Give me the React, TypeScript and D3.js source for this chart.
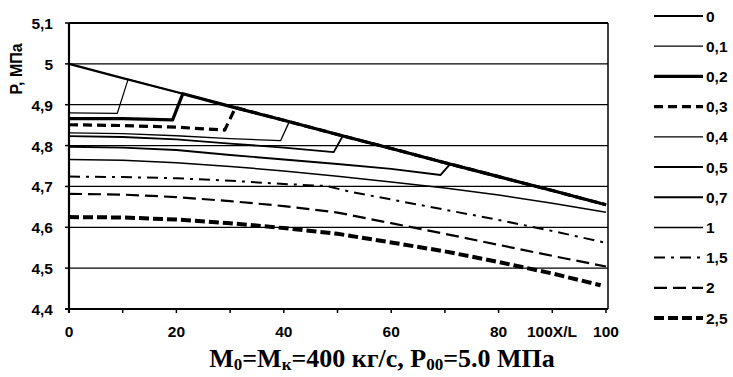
import React from "react";
import * as d3 from "d3";

// легенда / серии
const seriesLabels = ["0", "0,1", "0,2", "0,3", "0,4", "0,5", "0,7", "1", "1,5", "2", "2,5"];

// основная огибающая (серия 0)
const p0X = [0, 10, 20, 30, 40, 50, 60, 70, 80, 90, 100];
const p0Y = [5.0, 4.965, 4.931, 4.896, 4.862, 4.827, 4.793, 4.758, 4.724, 4.69, 4.655];

// ветви до скачка на огибающую
const p01X = [0, 9, 11];
const p01Y = [4.88, 4.879, 4.962];
const p02X = [0, 10, 19.3, 21.2];
const p02Y = [4.866, 4.866, 4.863, 4.927];
const p03X = [0, 10, 20, 29, 31];
const p03Y = [4.851, 4.849, 4.845, 4.838, 4.893];
const p04X = [0, 10, 20, 30, 39.4, 41];
const p04Y = [4.831, 4.829, 4.824, 4.817, 4.812, 4.858];
const p05X = [0, 10, 20, 30, 40, 49.3, 51];
const p05Y = [4.823, 4.821, 4.815, 4.805, 4.795, 4.784, 4.824];
const p07X = [0, 10, 20, 30, 40, 50, 60, 69.2, 71];
const p07Y = [4.797, 4.795, 4.789, 4.777, 4.766, 4.755, 4.743, 4.728, 4.755];

// кривые без скачка
const p1X = [0, 10, 20, 30, 40, 50, 60, 70, 80, 90, 100];
const p1Y = [4.766, 4.764, 4.758, 4.749, 4.738, 4.725, 4.711, 4.696, 4.679, 4.659, 4.637];
const p15X = [0, 10, 20, 30, 40, 48, 52, 60, 70, 80, 90, 100];
const p15Y = [4.724, 4.723, 4.72, 4.714, 4.706, 4.701, 4.688, 4.668, 4.643, 4.618, 4.591, 4.562];
const p2X = [0, 10, 20, 30, 40, 50, 60, 70, 80, 90, 100];
const p2Y = [4.682, 4.68, 4.674, 4.664, 4.652, 4.636, 4.61, 4.584, 4.557, 4.53, 4.504];
const p25X = [0, 10, 20, 30, 40, 50, 60, 70, 80, 90, 99];
const p25Y = [4.625, 4.624, 4.619, 4.61, 4.598, 4.584, 4.563, 4.541, 4.515, 4.487, 4.458];

const xTickLabels = ["0", "20", "40", "60", "80", "100"];
const yTicks = [4.4, 4.5, 4.6, 4.7, 4.8, 4.9, 5.0, 5.1];

type Pt = [number, number];
const zip = (xs: number[], ys: number[]): Pt[] => xs.map((x, i) => [x, ys[i]]);
const mainPts = zip(p0X, p0Y);
// ветвь + продолжение по огибающей
const withMain = (xs: number[], ys: number[]): Pt[] => {
  const last = xs[xs.length - 1];
  return [...zip(xs, ys), ...mainPts.filter((p) => p[0] > last)];
};

const styles = [
  { w: 2.2, dash: null },
  { w: 1.2, dash: null },
  { w: 3.2, dash: null },
  { w: 3.2, dash: "9,5" },
  { w: 1.3, dash: null },
  { w: 1.8, dash: null },
  { w: 1.9, dash: null },
  { w: 1.5, dash: null },
  { w: 2, dash: "11,6,3,6" },
  { w: 2.2, dash: "13,6" },
  { w: 4, dash: "10,4" },
];

const seriesData: Pt[][] = [
  mainPts,
  withMain(p01X, p01Y),
  withMain(p02X, p02Y),
  withMain(p03X, p03Y),
  withMain(p04X, p04Y),
  withMain(p05X, p05Y),
  withMain(p07X, p07Y),
  zip(p1X, p1Y),
  zip(p15X, p15Y),
  zip(p2X, p2Y),
  zip(p25X, p25Y),
];

export default function App() {
  const width = 733;
  const height = 377;
  const left = 69;
  const right = 608;
  const top = 23;
  const bottom = 309;

  const x = d3.scaleLinear().domain([0, 100]).range([left, 606]);
  const y = d3.scaleLinear().domain([4.4, 5.1]).range([bottom, top]);
  const line = d3
    .line<Pt>()
    .x((d) => x(d[0]))
    .y((d) => y(d[1]));

  const fmt = (v: number) => String(+v.toFixed(1)).replace(".", ",");
  const font = "'Liberation Sans', Arial, sans-serif";

  return (
    <svg
      width={width}
      height={height}
      style={{ position: "absolute", left: 0, top: 0, background: "#fff" }}
    >
      {/* сетка */}
      {yTicks.slice(1).map((t) => (
        <line key={"g" + t} x1={left} x2={right} y1={y(t)} y2={y(t)} stroke="#000" strokeWidth={t === 5.1 ? 2 : 1.3} />
      ))}
      <line x1={right} x2={right} y1={top} y2={bottom} stroke="#000" strokeWidth={1.5} />

      {/* кривые */}
      {seriesData.map((d, i) => (
        <path
          key={"s" + i}
          d={line(d) || ""}
          fill="none"
          stroke="#000"
          strokeWidth={styles[i].w}
          strokeDasharray={styles[i].dash || undefined}
          strokeLinejoin="round"
        />
      ))}

      {/* оси */}
      <line x1={left} x2={left} y1={top} y2={bottom + 4} stroke="#000" strokeWidth={2.2} />
      <line x1={left - 4} x2={right} y1={bottom} y2={bottom} stroke="#000" strokeWidth={2.2} />
      {yTicks.map((t) => (
        <g key={"yt" + t}>
          <line x1={left - 4} x2={left} y1={y(t)} y2={y(t)} stroke="#000" strokeWidth={1.5} />
          <text x={left - 16} y={y(t) + 6} textAnchor="end" fontFamily={font} fontWeight="bold" fontSize={15.5}>
            {fmt(t)}
          </text>
        </g>
      ))}
      {d3.range(0, 101, 10).map((t) => (
        <line key={"xt" + t} x1={x(t)} x2={x(t)} y1={bottom} y2={bottom + 4} stroke="#000" strokeWidth={1.5} />
      ))}
      {xTickLabels.map((l) => (
        <text key={"xl" + l} x={x(+l)} y={337} textAnchor="middle" fontFamily={font} fontWeight="bold" fontSize={15.5}>
          {l}
        </text>
      ))}
      <text x={552} y={337} textAnchor="middle" fontFamily={font} fontWeight="bold" fontSize={15.5}>
        100X/L
      </text>
      <text
        transform="translate(22,69) rotate(-90)"
        textAnchor="middle"
        fontFamily={font}
        fontWeight="bold"
        fontSize={16}
      >
        P, МПа
      </text>

      {/* подпись снизу */}
      <text x={382} y={367} textAnchor="middle" fontFamily="'Liberation Serif', 'Times New Roman', serif" fontWeight="bold" fontSize={26}>
        M<tspan fontSize={17} dy={3}>0</tspan>
        <tspan dy={-3}>=M</tspan>
        <tspan fontSize={17} dy={3}>к</tspan>
        <tspan dy={-3}>=400 кг/с, P</tspan>
        <tspan fontSize={17} dy={3}>00</tspan>
        <tspan dy={-3}>=5.0 МПа</tspan>
      </text>

      {/* легенда */}
      {seriesLabels.map((l, i) => {
        const ly = 16 + i * 30.2;
        return (
          <g key={"lg" + l}>
            <line
              x1={654}
              x2={703}
              y1={ly}
              y2={ly}
              stroke="#000"
              strokeWidth={styles[i].w}
              strokeDasharray={styles[i].dash || undefined}
            />
            <text x={706} y={ly + 5.5} fontFamily={font} fontWeight="bold" fontSize={15.5}>
              {l}
            </text>
          </g>
        );
      })}
    </svg>
  );
}
